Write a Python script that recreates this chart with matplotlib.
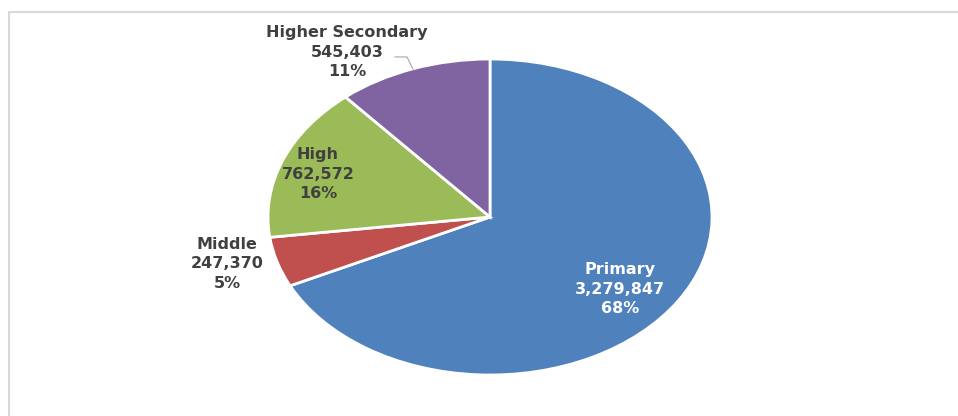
import matplotlib.pyplot as plt
from matplotlib.lines import Line2D

# data
levels = ["Primary", "Middle", "High", "Higher Secondary"]
students = [3279847, 247370, 762572, 545403]
colors = ["#4F81BD", "#C0504D", "#9BBB59", "#8064A2"]

# label placement in axes data units (pie radius = 1)
label_pos = [(0.586, -0.456), (-1.185, -0.297), (-0.775, 0.272), (-0.644, 1.044)]
label_colors = ["white", "#404040", "#404040", "#404040"]

plt.rcParams['font.family'] = ['DejaVu Sans']

fig = plt.figure(figsize=(9.58, 4.16), dpi=100)

# light grey chart frame: only the top and left edges fall inside the image
fx, fy = 9 / 958, (416 - 12) / 416
fig.add_artist(Line2D([fx, fx, 1.0], [0.0, fy, fy], transform=fig.transFigure,
                      color="#D9D9D9", lw=1.5))

ax = fig.add_axes([268 / 958, 41 / 416, 444 / 958, 316 / 416])
ax.pie(students, colors=colors, startangle=90, counterclock=False,
       wedgeprops=dict(edgecolor="white", linewidth=2))
ax.set_aspect('auto')
ax.set_xlim(-1, 1)
ax.set_ylim(-1, 1)

total = sum(students)
for name, val, (lx, ly), tc in zip(levels, students, label_pos, label_colors):
    pct = round(val / total * 100)
    ax.text(lx, ly, f"{name}\n{val:,}\n{pct}%", ha="center", va="center",
            fontsize=11.5, fontweight="bold", color=tc, linespacing=1.35,
            clip_on=False)

# leader line for Higher Secondary
ax.plot([-0.428, -0.374, -0.347], [1.013, 1.013, 0.937], color="#A6A6A6",
        lw=0.8, clip_on=False)

fig.savefig("out.png", dpi=100)
